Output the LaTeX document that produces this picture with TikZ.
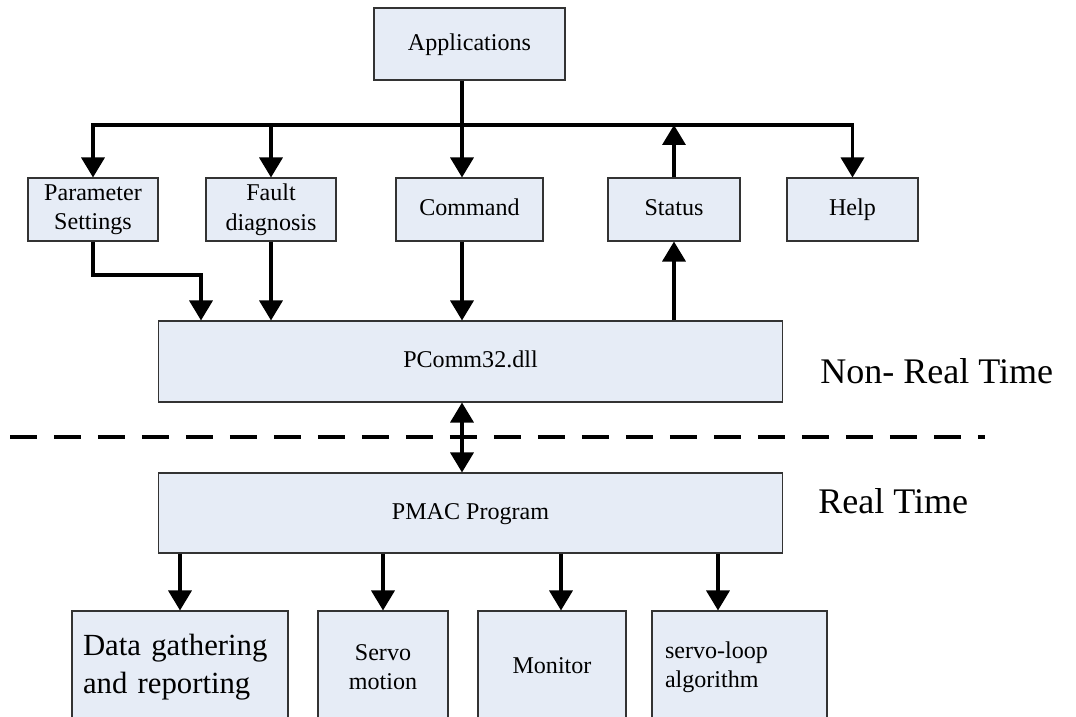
\documentclass[tikz,border=0pt]{standalone}
\usepackage{fontspec}
\setmainfont{Liberation Serif}
\usetikzlibrary{arrows.meta}

\definecolor{boxfill}{HTML}{E6ECF6}
\definecolor{boxline}{HTML}{333333}

\begin{document}
\begin{tikzpicture}[
    x=0.02cm, y=-0.02cm,
    box/.style={draw=boxline, fill=boxfill, line width=0.6pt, inner sep=0pt,
      align=center, font=\fontsize{13.7}{16.8}\selectfont},
    single/.style={box, text depth=0.22em},
    flow/.style={draw=black, line width=2pt,
      -{Triangle[width=0.46cm, length=0.40cm]}},
    both/.style={flow, {Triangle[width=0.46cm, length=0.40cm]}-{Triangle[width=0.46cm, length=0.40cm]}},
    split/.style={draw=black, line width=2.2pt, dash pattern=on 0.54cm off 0.34cm},
    zone/.style={font=\fontsize{20.5}{24}\selectfont, anchor=base west, inner sep=0pt}
]
\useasboundingbox (0,0) rectangle (1076,717);

% top layer
\node[single, minimum width=3.82cm, minimum height=1.44cm] (app) at (469.5,44) {Applications};
\node[box, minimum width=2.60cm, minimum height=1.26cm] (par) at (93,209.5) {Parameter\\Settings};
\node[box, minimum width=2.60cm, minimum height=1.26cm] (flt) at (271,209.5) {Fault\\diagnosis};
\node[single, minimum width=2.94cm, minimum height=1.26cm] (cmd) at (469.5,209.5) {Command};
\node[single, minimum width=2.64cm, minimum height=1.26cm] (sts) at (674,209.5) {Status};
\node[single, minimum width=2.62cm, minimum height=1.26cm] (hlp) at (852.5,209.5) {Help};
\coordinate (bus) at (462,125);
\coordinate (bend) at (201,275);

% driver and controller
\node[single, minimum width=12.5cm, minimum height=1.62cm] (pcomm) at (470.5,361.5) {PComm32.dll};
\node[single, minimum width=12.5cm, minimum height=1.60cm] (pmac) at (470.5,513) {PMAC Program};

% bottom layer, cut by the page edge
\node[box, text width=3.88cm, inner xsep=0.22cm, minimum height=2.24cm, align=left,
  font=\fontsize{17.5}{21.5}\selectfont] (data) at (180,667) {Data gathering\\and reporting};
\node[box, minimum width=2.60cm, minimum height=2.24cm] (servo) at (383,667) {Servo\\motion};
\node[single, minimum width=2.96cm, minimum height=2.24cm] (mon) at (552,667) {Monitor};
\node[box, text width=2.98cm, inner xsep=0.26cm, minimum height=2.24cm, align=left] (loop) at (739.5,667) {servo-loop\\algorithm};

\node[zone] (nrt) at (820,383) {Non- Real Time};
\node[zone] (rt) at (818,513) {Real Time};

\draw[split] (10,437) -- (985,437);

% connectors
\draw[both] (par.north) |- (bus -| hlp) -- (hlp.north);
\draw[flow] (bus |- app.south) -- (bus |- cmd.north);
\draw[flow] (bus -| flt) -- (flt.north);
\draw[flow] (sts.north) -- (bus -| sts);

\draw[flow] (par.south) |- (bend) -- (bend |- pcomm.north);
\draw[flow] (flt.south) -- (flt.south |- pcomm.north);
\draw[flow] (bus |- cmd.south) -- (bus |- pcomm.north);
\draw[flow] (sts.south |- pcomm.north) -- (sts.south);

\draw[both] (bus |- pcomm.south) -- (bus |- pmac.north);

\draw[flow] (pmac.south -| data) -- (data.north);
\draw[flow] (pmac.south -| servo) -- (servo.north);
\draw[flow] ([xshift=0.18cm]pmac.south -| mon) -- ([xshift=0.18cm]mon.north);
\draw[flow] ([xshift=-0.43cm]pmac.south -| loop) -- ([xshift=-0.43cm]loop.north);
\end{tikzpicture}
\end{document}
